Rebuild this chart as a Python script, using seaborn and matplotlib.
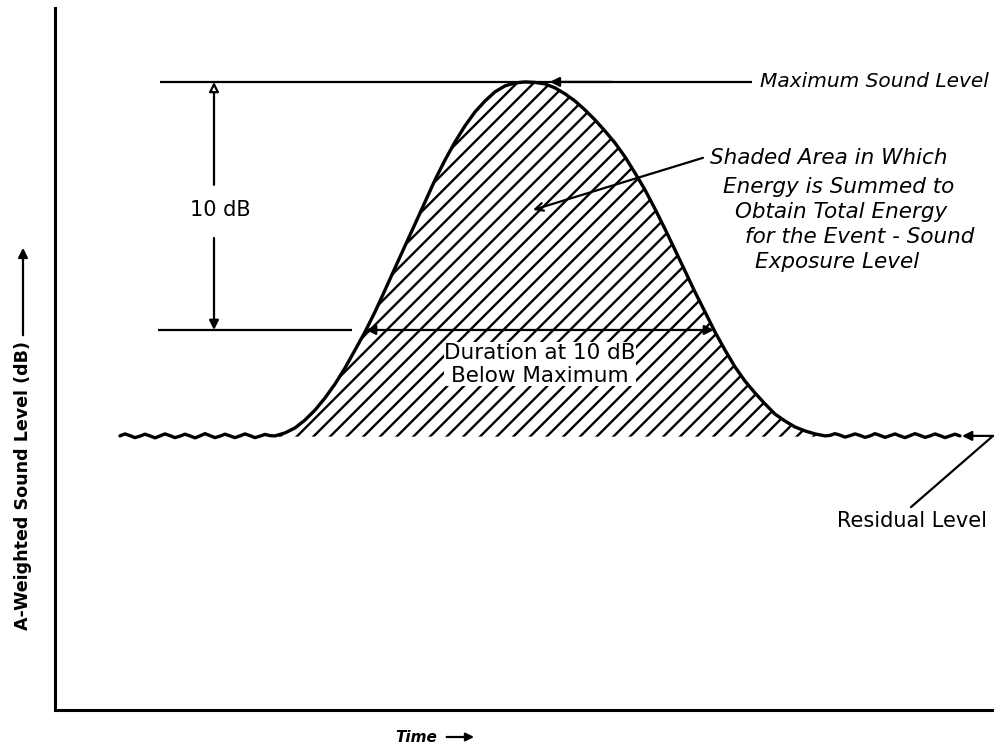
import numpy as np
import pandas as pd
import matplotlib
matplotlib.use("Agg")
import matplotlib.pyplot as plt
import matplotlib.patches as mpatches
import seaborn as sns

# ---------------- data (time in s, level in dB) ----------------
# residual (background) level before the event
pre_time_s = [6.5, 7.0, 7.5, 8.0, 8.5, 9.0, 9.5, 10.0, 10.5, 11.0, 11.5, 12.0,
              12.5, 13.0, 13.5, 14.0, 14.5, 15.0, 15.5, 16.0, 16.5, 17.0,
              17.5, 18.0, 18.5, 19.0, 19.5, 20.0, 20.5, 21.0, 21.5]
pre_level_db = [75.73, 75.81, 75.74, 75.66, 75.72, 75.80, 75.73, 75.65, 75.73,
                75.81, 75.74, 75.66, 75.72, 75.80, 75.73, 75.65, 75.73, 75.82,
                75.74, 75.66, 75.72, 75.80, 75.73, 75.66, 75.73, 75.81, 75.74,
                75.66, 75.72, 75.79, 75.74]
# the noise event
event_time_s = [22.0, 23.0, 24.0, 25.0, 26.0, 27.0, 28.0, 29.0, 30.0, 31.0,
                32.0, 33.0, 34.0, 35.0, 36.0, 37.0, 38.0, 39.0, 40.0, 41.0,
                42.0, 43.0, 44.0, 45.0, 46.0, 47.0, 48.0, 49.0, 50.0, 51.0,
                52.0, 53.0, 54.0, 55.0, 56.0, 57.0, 58.0, 59.0, 60.0, 61.0,
                62.0, 63.0, 64.0, 65.0, 66.0, 67.0, 68.0, 69.0, 70.0, 71.0,
                72.0, 73.0, 74.0, 75.0, 76.0, 77.0]
event_level_db = [75.73, 75.85, 76.05, 76.37, 76.77, 77.26, 77.82, 78.47,
                  79.19, 79.92, 80.73, 81.61, 82.50, 83.39, 84.27, 85.16,
                  86.05, 86.85, 87.58, 88.23, 88.79, 89.23, 89.60, 89.84,
                  89.96, 90.00, 89.98, 89.92, 89.76, 89.52, 89.23, 88.87,
                  88.47, 88.02, 87.54, 86.98, 86.33, 85.65, 84.88, 84.07,
                  83.23, 82.38, 81.53, 80.73, 79.92, 79.19, 78.51, 77.94,
                  77.46, 77.02, 76.61, 76.33, 76.09, 75.93, 75.81, 75.73]
# residual level after the event
post_time_s = [77.5, 78.0, 78.5, 79.0, 79.5, 80.0, 80.5, 81.0, 81.5, 82.0,
               82.5, 83.0, 83.5, 84.0, 84.5, 85.0, 85.5, 86.0, 86.5, 87.0,
               87.5, 88.0, 88.5, 89.0, 89.5, 90.0, 90.5]
post_level_db = [75.75, 75.82, 75.76, 75.68, 75.74, 75.81, 75.75, 75.67, 75.73,
                 75.82, 75.75, 75.67, 75.74, 75.81, 75.73, 75.66, 75.74, 75.82,
                 75.75, 75.67, 75.73, 75.81, 75.74, 75.66, 75.73, 75.80, 75.73]

max_level_db = 90.0
ten_db_down = 80.0
residual_db = 75.7
duration_start_s = 31.1
duration_end_s = 65.9

shaded_lines = ["Shaded Area in Which", "Energy is Summed to",
                "Obtain Total Energy", "for the Event - Sound",
                "Exposure Level"]

df = pd.DataFrame({"time": pre_time_s + event_time_s + post_time_s,
                   "level": pre_level_db + event_level_db + post_level_db})

# ---------------- figure ----------------
sns.set_theme(style="white")
plt.rcParams["font.family"] = ["DejaVu Sans"]
plt.rcParams["text.color"] = "black"
plt.rcParams["hatch.linewidth"] = 1.7
plt.rcParams["hatch.color"] = "black"

W, H = 1002, 749
fig = plt.figure(figsize=(W / 100, H / 100), dpi=100)
ax = fig.add_axes([55 / W, 1 - 710 / H, (992 - 55) / W, (710 - 8) / H])
ax.set_xlim(0, 93.7)
ax.set_ylim(64.68, 92.98)

for s in ["top", "right"]:
    ax.spines[s].set_visible(False)
for s in ["left", "bottom"]:
    ax.spines[s].set_color("black")
    ax.spines[s].set_linewidth(2.2)
ax.set_xticks([])
ax.set_yticks([])

ax.fill_between(event_time_s, event_level_db, residual_db, facecolor="none",
                edgecolor="black", hatch="//", linewidth=0, zorder=1)

sns.lineplot(data=df, x="time", y="level", sort=False, color="black",
             linewidth=2.4, ax=ax, zorder=3)
ax.set_xlabel("")
ax.set_ylabel("")

lw = 1.6
# maximum level line
ax.hlines(max_level_db, 10.5, 69.7, color="black", linewidth=lw, zorder=2)
ax.annotate("", xy=(49.2, max_level_db), xytext=(56, max_level_db),
            arrowprops=dict(arrowstyle="-|>", color="black", lw=lw,
                            mutation_scale=14))
ax.text(70.5, max_level_db, "Maximum Sound Level", ha="left", va="center",
        fontsize=14.5, style="italic")

# 10 dB down line
ax.hlines(ten_db_down, 10.3, 29.7, color="black", linewidth=lw, zorder=2)
ax.annotate("", xy=(duration_start_s, ten_db_down),
            xytext=(duration_end_s, ten_db_down),
            arrowprops=dict(arrowstyle="<|-|>", color="black", lw=lw,
                            mutation_scale=14, shrinkA=0, shrinkB=0))

# 10 dB vertical dimension
ax.annotate("", xy=(15.9, max_level_db), xytext=(15.9, 85.85),
            arrowprops=dict(arrowstyle="-|>", color="black", lw=lw,
                            fc="white", mutation_scale=14,
                            shrinkA=0, shrinkB=0))
ax.annotate("", xy=(15.9, ten_db_down), xytext=(15.9, 83.71),
            arrowprops=dict(arrowstyle="-|>", color="black", lw=lw,
                            mutation_scale=14, shrinkA=0, shrinkB=0))
ax.text(16.5, 84.84, "10 dB", ha="center", va="center", fontsize=15)

# duration label
ax.text(48.5, 78.62, "Duration at 10 dB\nBelow Maximum", ha="center",
        va="center", fontsize=15.5, linespacing=1.2, zorder=4,
        bbox=dict(facecolor="white", edgecolor="none", pad=0.5))

# shaded area label
xs = [65.5, 66.8, 68.0, 69.0, 70.0]
ys = [86.94, 85.77, 84.76, 83.75, 82.74]
for line, xx, yy in zip(shaded_lines, xs, ys):
    ax.text(xx, yy, line, ha="left", va="center", fontsize=15.5,
            style="italic")
ax.annotate("", xy=(47.8, 84.84), xytext=(64.8, 86.94),
            arrowprops=dict(arrowstyle="->", color="black", lw=lw,
                            mutation_scale=14, shrinkA=0, shrinkB=0))

# residual level label
ax.annotate("", xy=(90.7, 75.73), xytext=(93.8, 75.73),
            arrowprops=dict(arrowstyle="-|>", color="black", lw=lw,
                            mutation_scale=14, shrinkA=0, shrinkB=0),
            annotation_clip=False)
ax.plot([93.8, 85.6], [75.73, 72.86], color="black", linewidth=lw,
        clip_on=False)
ax.text(85.7, 72.3, "Residual Level", ha="center", va="center", fontsize=15)

# axis labels with arrows
ylab = fig.text(23 / W, 1 - 630 / H, "A-Weighted Sound Level (dB)",
                rotation=90, ha="center", va="bottom", fontsize=12.6,
                fontweight="bold")
xlab = fig.text(395 / W, 1 - 737 / H, "Time", ha="left", va="center",
                fontsize=11, fontweight="bold", style="italic")
fig.canvas.draw()
r = fig.canvas.get_renderer()
bb = ylab.get_window_extent(r)
fig.add_artist(mpatches.FancyArrowPatch(
    (23, bb.y1 + 3), (23, H - 245), transform=None,
    arrowstyle="-|>", mutation_scale=14, color="black", lw=1.6))
bx = xlab.get_window_extent(r)
fig.add_artist(mpatches.FancyArrowPatch(
    (bx.x1 + 7, H - 737), (bx.x1 + 40, H - 737), transform=None,
    arrowstyle="-|>", mutation_scale=12, color="black", lw=1.6))

fig.savefig("out.png", dpi=100)
